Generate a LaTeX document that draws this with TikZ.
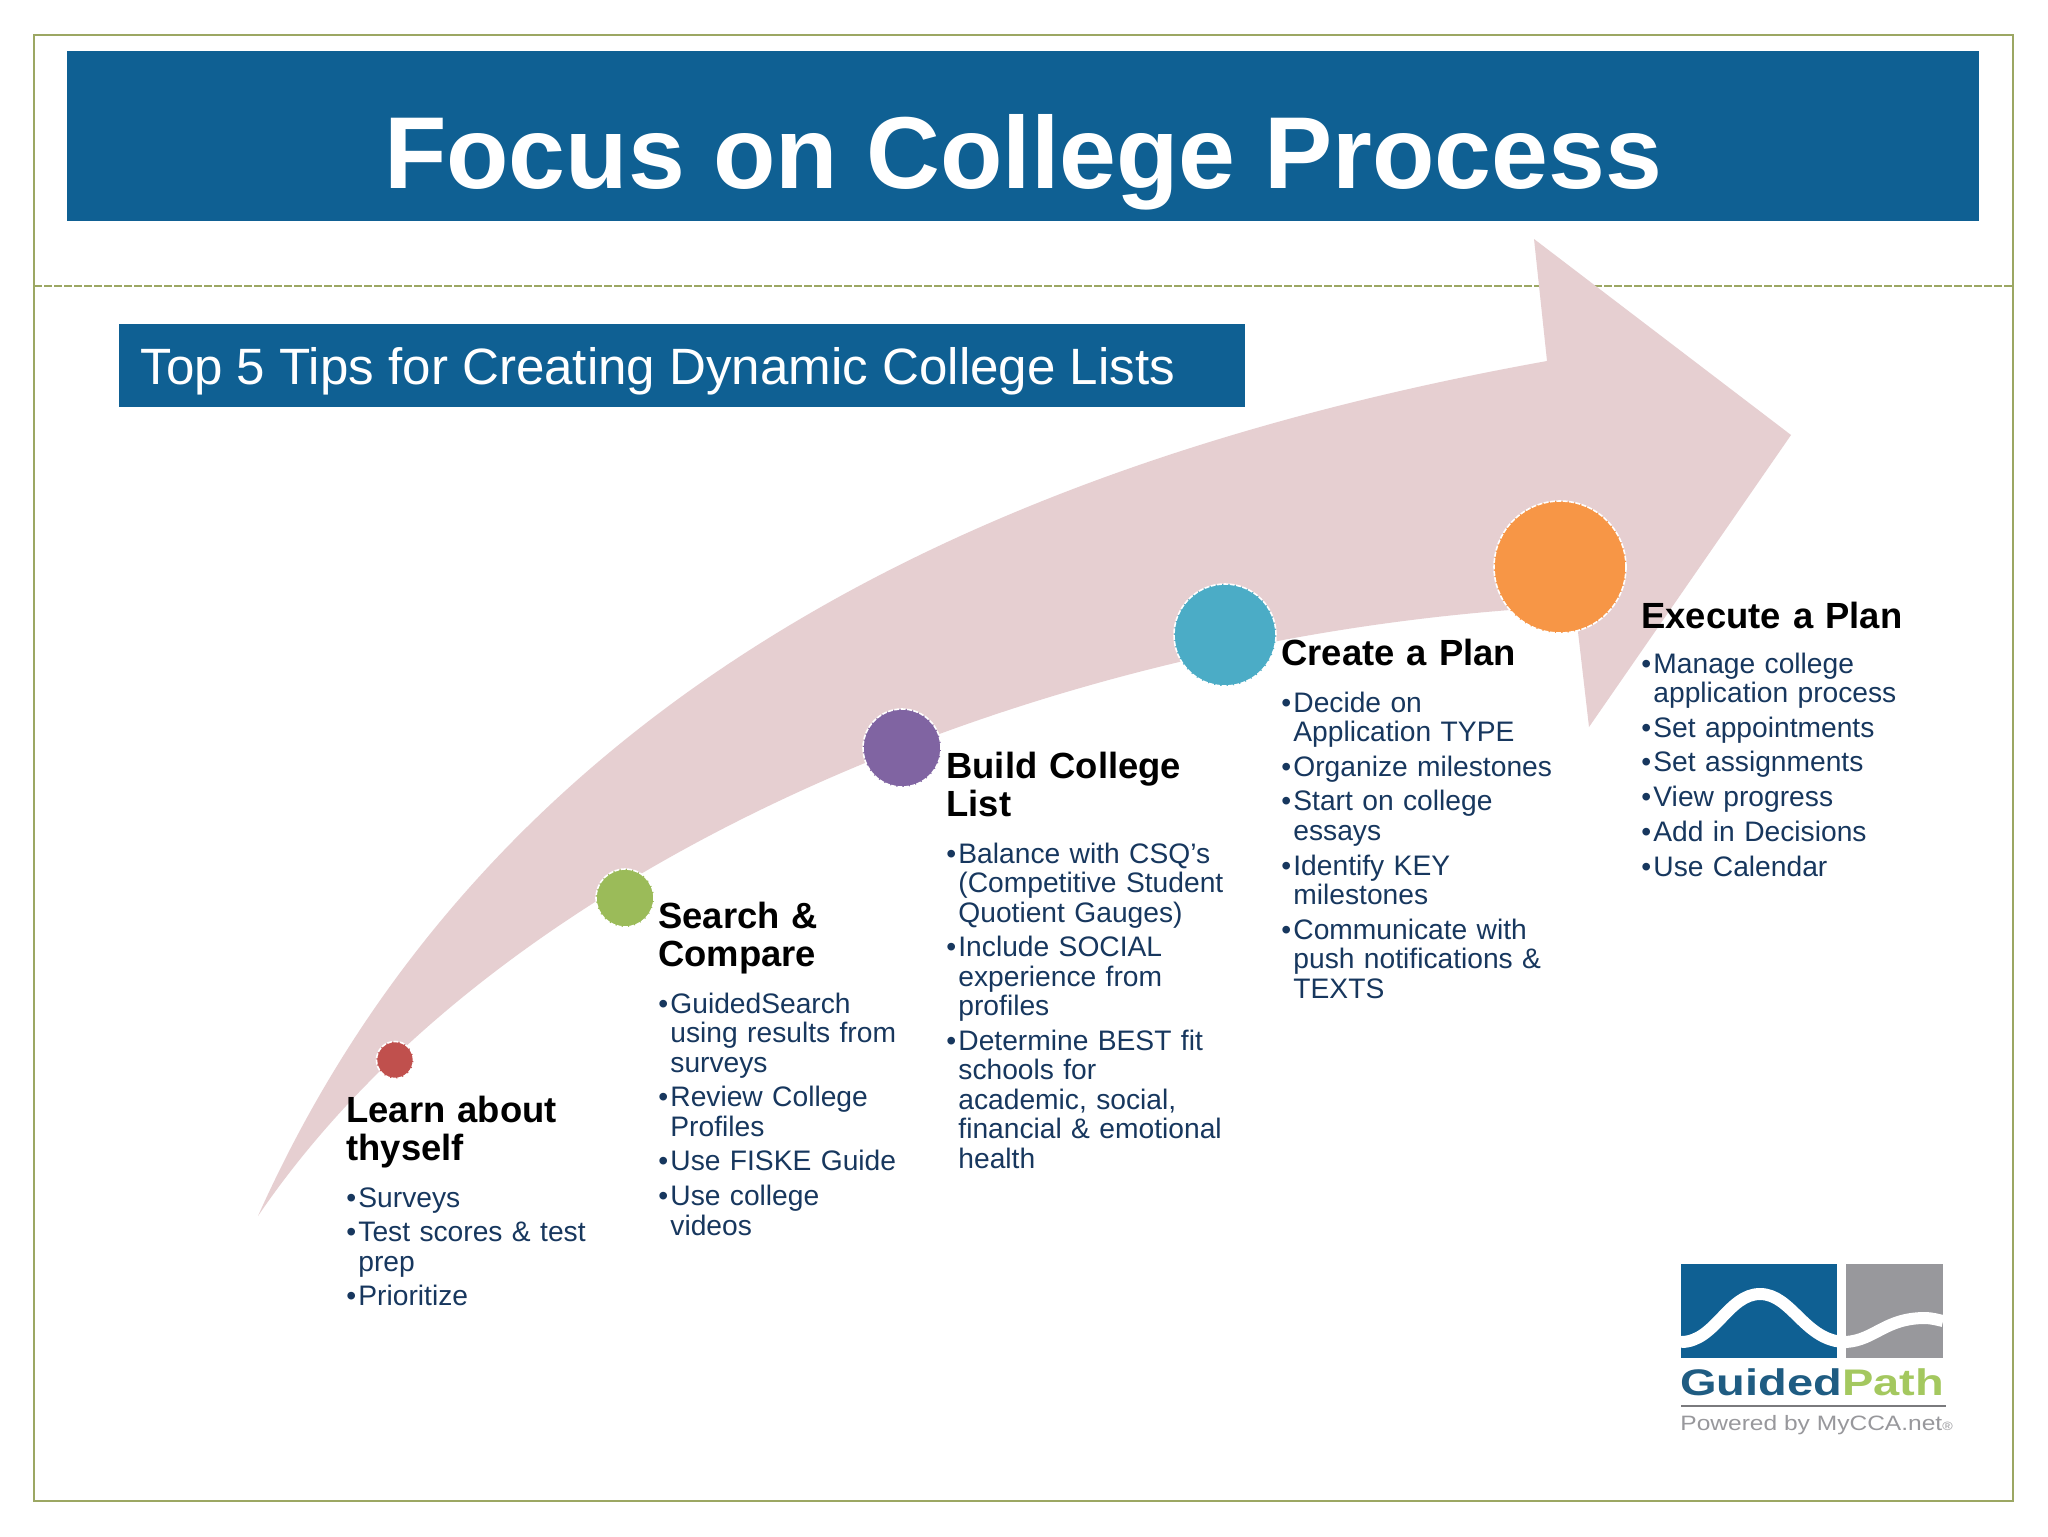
\documentclass[tikz,border=0pt]{standalone}
\usepackage{fontspec}
\setmainfont{Liberation Sans}
\definecolor{bandblue}{HTML}{0F6093}
\definecolor{frameolive}{HTML}{9CA763}
\definecolor{arrowpink}{HTML}{E6CFD1}
\definecolor{tipnavy}{HTML}{17375E}
\definecolor{logogrey}{HTML}{98989C}
\definecolor{logonavy}{HTML}{1F5C82}
\definecolor{logogreen}{HTML}{A4C85F}
\definecolor{dotred}{HTML}{C0504D}
\definecolor{dotgreen}{HTML}{9BBB59}
\definecolor{dotpurple}{HTML}{8064A2}
\definecolor{dotblue}{HTML}{4BACC6}
\definecolor{dotorange}{HTML}{F79646}
\newcommand{\tip}[1]{\setlength{\parskip}{2.6pt}\hangindent=6pt\hangafter=1\noindent\makebox[6pt][l]{\textbullet}#1\par}
\tikzset{
  band/.style = {fill=bandblue, draw=none},
  stepdot/.style = {shape=circle, inner sep=0pt, draw=white, dashed, line width=0.8pt,
    dash pattern=on 2.5pt off 0.7pt},
  tiphead/.style = {anchor=base west, inner sep=0pt, text width=200pt, align=left,
    font=\fontsize{18.2}{19}\selectfont\bfseries, text=black},
  tiplist/.style = {anchor=base west, inner sep=0pt, text width=200pt, align=left,
    font=\fontsize{14.1}{14.75}\selectfont, text=tipnavy}
}
\begin{document}
\begin{tikzpicture}[x=0.5pt, y=-0.5pt]
  \useasboundingbox (0,0) rectangle (2048,1536);
  \fill[white] (0,0) rectangle (2048,1536);
  \draw[frameolive, line width=1pt] (34,35) rectangle (2013,1501);
  \draw[frameolive, line width=1pt, dash pattern=on 4pt off 1pt] (34,286) -- (2013,286);
  \node[band, minimum width=956pt, minimum height=85pt, inner sep=0pt] (titleband) at (1023,136) {};
  \node[anchor=base, text=white, inner sep=0pt, font=\fontsize{51.1}{51}\selectfont\bfseries] (title) at (1023,188) {Focus on College Process};
  \node[band, minimum width=563pt, minimum height=41.5pt, inner sep=0pt] (subband) at (682,365.5) {};
  \node[anchor=base west, text=white, inner sep=0pt, font=\fontsize{25.55}{26}\selectfont] (subtitle) at (140,384) {Top 5 Tips for Creating Dynamic College Lists};
  \fill[arrowpink] (258,1216) .. controls (480,720) and (947,469) .. (1547,361)
    -- (1534,239) -- (1791,435) -- (1589,727) -- (1575,606)
    .. controls (1050,630) and (500,860) .. (258,1216) -- cycle;
  \node[stepdot, fill=dotred, minimum size=18.5pt] (learn) at (395,1060) {};
  \node[stepdot, fill=dotgreen, minimum size=29pt] (search) at (625,898) {};
  \node[stepdot, fill=dotpurple, minimum size=39pt] (build) at (902,748) {};
  \node[stepdot, fill=dotblue, minimum size=51pt] (create) at (1225,635) {};
  \node[stepdot, fill=dotorange, minimum size=66pt] (execute) at (1560,567) {};
  \node[tiphead] (learnhead) at (346,1122.5) {Learn about\\thyself};
  \node[tiplist] (learnlist) at (346,1207) {\tip{Surveys}\tip{Test scores \& test\newline prep}\tip{Prioritize}};
  \node[tiphead] (searchhead) at (658,928) {Search \&\\Compare};
  \node[tiplist] (searchlist) at (658,1013) {\tip{GuidedSearch\newline using results from\newline surveys}\tip{Review College\newline Profiles}\tip{Use FISKE Guide}\tip{Use college\newline videos}};
  \node[tiphead] (buildhead) at (946,778) {Build College\\List};
  \node[tiplist] (buildlist) at (946,863) {\tip{Balance with CSQ’s\newline (Competitive Student\newline Quotient Gauges)}\tip{Include SOCIAL\newline experience from\newline profiles}\tip{Determine BEST fit\newline schools for\newline academic, social,\newline financial \& emotional\newline health}};
  \node[tiphead] (createhead) at (1281,665) {Create a Plan};
  \node[tiplist] (createlist) at (1281,712) {\tip{Decide on\newline Application TYPE}\tip{Organize milestones}\tip{Start on college\newline essays}\tip{Identify KEY\newline milestones}\tip{Communicate with\newline push notifications \&\newline TEXTS}};
  \node[tiphead] (executehead) at (1641,628) {Execute a Plan};
  \node[tiplist] (executelist) at (1641,673) {\tip{Manage college\newline application process}\tip{Set appointments}\tip{Set assignments}\tip{View progress}\tip{Add in Decisions}\tip{Use Calendar}};
  \fill[bandblue] (1681,1264) rectangle (1837,1358);
  \fill[logogrey] (1846,1264) rectangle (1943,1358);
  \draw[white, line width=6pt] (1681,1342) .. controls (1715,1342) and (1728,1294) .. (1760,1294)
    .. controls (1792,1294) and (1805,1342) .. (1846,1342)
    .. controls (1875,1340) and (1885,1318) .. (1925,1318) .. controls (1932,1318) and (1938,1320) .. (1943,1321);
  \node[anchor=base west, inner sep=0pt, font=\fontsize{18.5}{19}\selectfont\bfseries] (logoname) at (1680,1395)
    {\scalebox{1.27}[1]{\textcolor{logonavy}{Guided}\textcolor{logogreen}{Path}}};
  \draw[logogrey!80!black, line width=1pt] (1681,1406) -- (1946,1406);
  \node[anchor=base west, inner sep=0pt, text=logogrey, font=\fontsize{10.4}{11}\selectfont] (logotag) at (1680,1430)
    {\scalebox{1.18}[1]{Powered by MyCCA.net{\fontsize{6}{6}\selectfont ®}}};
\end{tikzpicture}
\end{document}
